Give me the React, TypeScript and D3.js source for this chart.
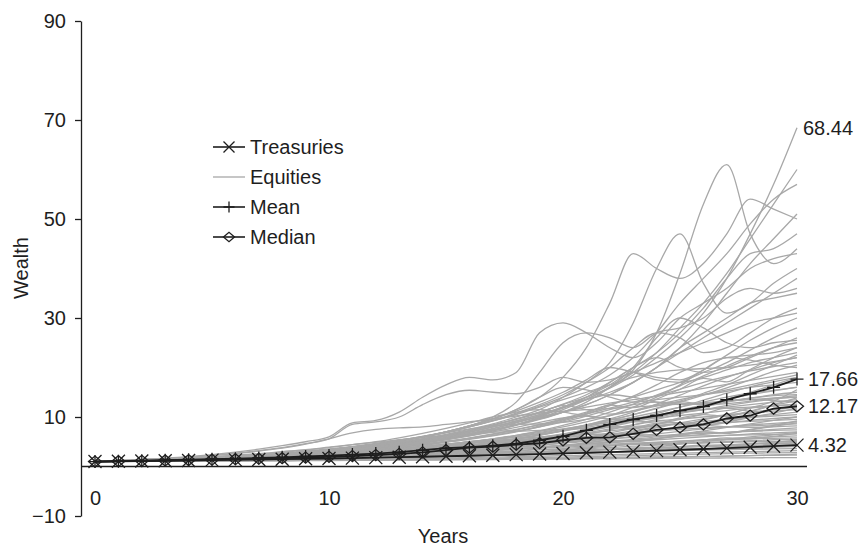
import React, { useRef, useEffect } from 'react';
import * as d3 from 'd3';

const years = [0, 1, 2, 3, 4, 5, 6, 7, 8, 9, 10, 11, 12, 13, 14, 15, 16, 17, 18, 19, 20, 21, 22, 23, 24, 25, 26, 27, 28, 29, 30];

const treasuries = [1.0, 1.05, 1.1, 1.16, 1.21, 1.28, 1.34, 1.4, 1.47, 1.55, 1.62, 1.7, 1.79, 1.88, 1.97, 2.07, 2.17, 2.28, 2.4, 2.52, 2.64, 2.77, 2.91, 3.06, 3.21, 3.37, 3.54, 3.72, 3.9, 4.1, 4.32];
const meanWealth = [1.0, 1.08, 1.16, 1.26, 1.36, 1.47, 1.59, 1.72, 1.86, 2.02, 2.2, 2.4, 2.62, 2.9, 3.3, 3.7, 3.9, 4.2, 4.6, 5.3, 6.1, 7.3, 8.5, 9.5, 10.3, 11.3, 12.1, 13.5, 14.7, 16.0, 17.66];
const medianWealth = [1.0, 1.07, 1.14, 1.22, 1.3, 1.38, 1.47, 1.57, 1.68, 1.8, 1.95, 2.1, 2.3, 2.55, 2.85, 3.3, 3.8, 4.0, 4.4, 4.7, 5.3, 5.8, 5.9, 6.6, 7.4, 7.9, 8.5, 9.7, 10.3, 11.7, 12.17];

// simulated equity wealth paths, one row per path (years 0..30)
const equities = [
  [1, 1.1, 1.2, 1.3, 1.4, 1.6, 1.8, 2.0, 2.3, 2.6, 2.9, 3.3, 3.8, 4.3, 5.0, 5.8, 6.6, 7.6, 8.8, 10.2, 11.8, 13.6, 15.8, 18.5, 22, 26, 31, 38, 47, 57, 68.44],
  [1, 1.1, 1.2, 1.4, 1.5, 1.7, 1.9, 2.1, 2.4, 2.8, 3.2, 3.6, 4.1, 4.8, 5.6, 6.3, 7.2, 8.4, 9.6, 11, 12.5, 14, 16, 19.5, 27, 39, 53, 61, 47, 41, 44],
  [1, 1.1, 1.3, 1.4, 1.6, 1.8, 2.0, 2.2, 2.5, 2.8, 3.2, 3.7, 4.2, 4.9, 5.6, 6.5, 7.5, 8.6, 10, 11.5, 14, 17, 21, 29, 40, 47, 37, 31, 33, 37, 40],
  [1, 1.1, 1.2, 1.4, 1.6, 1.8, 2.0, 2.3, 2.6, 3.0, 3.4, 3.9, 4.5, 5.2, 6.0, 7.0, 8.2, 9.6, 11.5, 14, 18, 24, 33, 43, 40, 38, 41, 47, 54, 52, 50],
  [1, 1.1, 1.2, 1.3, 1.5, 1.6, 1.8, 2.0, 2.2, 2.5, 2.8, 3.2, 3.6, 4.1, 4.7, 5.4, 6.2, 7.2, 8.4, 9.8, 11.5, 13.5, 16, 19, 23, 28, 33, 39, 46, 53, 60],
  [1, 1.1, 1.3, 1.4, 1.6, 1.8, 2.1, 2.4, 2.7, 3.1, 3.5, 4.0, 4.6, 5.3, 6.1, 7, 8, 9.2, 10.6, 12.2, 14, 16, 18.5, 22, 27, 33, 38, 43, 49, 54, 57],
  [1, 1.1, 1.2, 1.3, 1.5, 1.7, 1.9, 2.1, 2.4, 2.7, 3.0, 3.4, 3.9, 4.4, 5.0, 5.7, 6.5, 7.4, 8.5, 9.7, 11, 12.5, 14.5, 17, 20, 24, 29, 35, 41, 46, 51],
  [1, 1.1, 1.2, 1.4, 1.5, 1.7, 1.9, 2.2, 2.5, 2.8, 3.2, 3.6, 4.1, 4.7, 5.4, 6.2, 7.2, 8.3, 9.6, 11, 12.6, 14.5, 17, 20, 23, 27, 32, 38, 43, 44, 47],
  [1, 1.2, 1.4, 1.7, 2.0, 2.4, 2.9, 3.5, 4.2, 5.0, 6.0, 8.8, 9.3, 11, 14, 16.5, 18, 17.5, 19, 27, 29, 27, 24, 22, 25, 30, 33, 36, 40, 42, 43],
  [1, 1.1, 1.2, 1.4, 1.6, 1.8, 2.0, 2.3, 2.6, 3.0, 3.4, 3.9, 4.5, 5.2, 6.0, 7.0, 8.2, 10, 13, 19, 25, 27, 26, 24, 27, 28, 30, 34, 36, 35, 36],
  [1, 1.1, 1.2, 1.3, 1.4, 1.6, 1.8, 2.0, 2.3, 2.6, 2.9, 3.3, 3.8, 4.4, 5.1, 5.9, 6.9, 8, 9.2, 10.5, 12, 13.5, 15, 17, 20, 24, 27, 30, 33, 34, 35],
  [1, 1.1, 1.3, 1.4, 1.6, 1.8, 2.0, 2.3, 2.6, 3.0, 3.4, 3.9, 4.5, 5.2, 6.0, 6.9, 8, 9.3, 10.8, 12.5, 14.5, 17, 20, 24, 27, 26, 23, 24, 27, 30, 32],
  [1, 1.2, 1.4, 1.6, 1.9, 2.3, 2.7, 3.2, 3.8, 4.6, 5.6, 8.5, 9.0, 10, 12.5, 14.5, 15.4, 15, 14.7, 16, 18, 17, 17.5, 19, 21, 23, 25, 27, 29, 30, 31],
  [1, 1.1, 1.2, 1.4, 1.5, 1.7, 1.9, 2.1, 2.4, 2.7, 3.0, 3.4, 3.9, 4.4, 5.0, 5.7, 6.5, 7.4, 8.4, 9.6, 11, 12.5, 14.5, 17, 20, 23, 26, 29, 32, 35, 38],
  [1, 1.1, 1.2, 1.3, 1.5, 1.6, 1.8, 2.0, 2.3, 2.6, 2.9, 3.3, 3.7, 4.2, 4.8, 5.5, 6.3, 7.2, 8.3, 9.5, 11, 13, 16, 20, 26, 30, 28, 25, 24, 25, 25.5],
  [1, 1.1, 1.2, 1.3, 1.5, 1.6, 1.8, 2.0, 2.2, 2.5, 2.8, 3.1, 3.5, 4.0, 4.5, 5.1, 5.8, 6.6, 7.5, 8.5, 9.7, 11, 12.5, 14, 15.5, 17, 19, 21, 23.5, 26, 28],
  [1, 1.1, 1.2, 1.4, 1.5, 1.7, 1.9, 2.1, 2.4, 2.7, 3.0, 3.4, 3.8, 4.3, 4.9, 5.6, 6.4, 7.3, 8.4, 10, 12, 14, 17, 20, 22, 20, 19, 20, 22, 24, 26],
  [1, 1.05, 1.1, 1.2, 1.3, 1.4, 1.5, 1.7, 1.9, 2.1, 2.3, 2.6, 2.9, 3.3, 3.7, 4.2, 4.8, 5.5, 6.3, 7.2, 8.3, 9.5, 11, 12.6, 14.4, 16.3, 18.3, 20.3, 22.3, 24, 25],
  [1, 1.1, 1.2, 1.3, 1.4, 1.6, 1.8, 2.0, 2.2, 2.4, 2.7, 3.0, 3.4, 3.8, 4.3, 4.9, 5.5, 6.2, 7.0, 8.0, 9.2, 10.6, 12.3, 14.2, 16.5, 19, 21, 22, 22.5, 23, 24],
  [1, 1.1, 1.2, 1.4, 1.6, 1.8, 2.0, 2.3, 2.6, 3.0, 3.4, 3.9, 4.5, 5.2, 6.0, 7, 8.2, 9.6, 11.2, 13, 15, 17.5, 20, 19, 17.5, 17, 18, 19.5, 21, 22, 23],
  [1, 1.05, 1.1, 1.2, 1.3, 1.4, 1.5, 1.6, 1.8, 2.0, 2.2, 2.4, 2.7, 3.0, 3.4, 3.8, 4.3, 4.9, 5.6, 6.4, 7.3, 8.4, 9.6, 11, 12.6, 14.4, 16.3, 18, 19.5, 21, 22],
  [1, 1.1, 1.2, 1.3, 1.5, 1.6, 1.8, 2.0, 2.2, 2.5, 2.8, 3.1, 3.5, 3.9, 4.4, 5.0, 5.7, 6.5, 7.4, 8.4, 9.5, 10.6, 11.8, 13, 14.3, 15.6, 17, 18.2, 19.3, 20.2, 21],
  [1, 1.1, 1.2, 1.3, 1.4, 1.5, 1.7, 1.9, 2.1, 2.3, 2.6, 2.9, 3.2, 3.6, 4.0, 4.5, 5.0, 5.6, 6.3, 7.1, 8.0, 9.0, 10.3, 12, 14, 16.5, 19.5, 22, 21.5, 20.5, 20],
  [1, 1.1, 1.2, 1.3, 1.5, 1.7, 1.9, 2.1, 2.4, 2.7, 3.1, 3.5, 4.0, 4.6, 5.3, 6.1, 7.0, 8.0, 9.0, 10, 11, 12, 12.8, 13.5, 14.2, 15, 15.8, 16.6, 17.4, 18.2, 19],
  [1, 1.05, 1.1, 1.2, 1.3, 1.4, 1.5, 1.6, 1.7, 1.9, 2.1, 2.3, 2.5, 2.8, 3.1, 3.5, 3.9, 4.4, 5.0, 5.7, 6.5, 7.4, 8.4, 9.5, 10.7, 12, 13.4, 14.8, 16.1, 17.1, 18],
  [1, 1.1, 1.2, 1.4, 1.6, 1.8, 2.0, 2.3, 2.6, 3.0, 3.5, 4.0, 4.6, 5.3, 6.1, 7.0, 8.2, 9.6, 11.5, 14, 16, 15.5, 14, 13, 13.5, 14, 14.5, 15.2, 16, 16.5, 17],
  [1, 1.1, 1.2, 1.3, 1.4, 1.5, 1.6, 1.8, 2.0, 2.2, 2.4, 2.7, 3.0, 3.3, 3.7, 4.1, 4.6, 5.1, 5.7, 6.4, 7.2, 8.1, 9.0, 10, 11, 12, 13, 14, 14.8, 15.4, 16],
  [1, 1.05, 1.1, 1.2, 1.3, 1.4, 1.5, 1.6, 1.8, 2.0, 2.2, 2.4, 2.6, 2.9, 3.2, 3.6, 4.0, 4.5, 5.0, 5.6, 6.3, 7.1, 8.0, 9.0, 10, 11, 12, 13, 13.8, 14.5, 15],
  [1, 1.2, 1.4, 1.6, 1.9, 2.2, 2.6, 3.1, 3.7, 4.5, 5.6, 6.8, 7.5, 7.8, 8.0, 8.5, 9.0, 9.6, 10.2, 10.8, 11.2, 11.5, 11.7, 12, 12.3, 12.6, 12.9, 13.2, 13.5, 13.8, 14],
  [1, 1.1, 1.2, 1.3, 1.4, 1.6, 1.7, 1.9, 2.1, 2.3, 2.6, 2.9, 3.2, 3.6, 4.0, 4.5, 5.0, 5.6, 6.2, 6.9, 7.6, 8.3, 9, 9.7, 10.3, 10.9, 11.5, 12, 12.5, 13, 13.5],
  [1, 1.05, 1.1, 1.2, 1.3, 1.4, 1.5, 1.7, 1.8, 2.0, 2.2, 2.4, 2.7, 3.0, 3.3, 3.7, 4.1, 4.6, 5.2, 5.8, 6.5, 7.3, 8.2, 9.2, 10.3, 11.4, 12.4, 13.2, 13.6, 13.3, 13],
  [1, 1.1, 1.2, 1.3, 1.5, 1.6, 1.8, 2.0, 2.2, 2.4, 2.7, 3.0, 3.3, 3.7, 4.1, 4.5, 5.0, 5.5, 6.0, 6.6, 7.2, 7.9, 8.6, 9.2, 9.8, 10.3, 10.8, 11.3, 11.8, 12.2, 12.5],
  [1, 1.05, 1.1, 1.2, 1.3, 1.4, 1.5, 1.6, 1.7, 1.9, 2.0, 2.2, 2.4, 2.6, 2.9, 3.2, 3.5, 3.9, 4.3, 4.8, 5.3, 5.9, 6.5, 7.2, 8.0, 8.8, 9.6, 10.4, 11, 11.5, 12],
  [1, 1.1, 1.2, 1.4, 1.5, 1.7, 1.9, 2.1, 2.4, 2.7, 3.0, 3.4, 3.8, 4.3, 4.9, 5.5, 6.2, 7.0, 7.9, 8.9, 9.8, 10.2, 9.6, 9.0, 9.2, 9.6, 10, 10.4, 10.8, 11.2, 11.5],
  [1, 1.05, 1.1, 1.2, 1.25, 1.35, 1.45, 1.55, 1.7, 1.85, 2.0, 2.2, 2.4, 2.6, 2.9, 3.2, 3.5, 3.8, 4.2, 4.6, 5.1, 5.6, 6.2, 6.8, 7.4, 8.0, 8.7, 9.4, 10, 10.5, 11],
  [1, 1.1, 1.2, 1.3, 1.4, 1.5, 1.7, 1.8, 2.0, 2.2, 2.4, 2.6, 2.9, 3.2, 3.5, 3.9, 4.3, 4.7, 5.2, 5.7, 6.2, 6.7, 7.2, 7.7, 8.2, 8.7, 9.1, 9.5, 9.9, 10.2, 10.5],
  [1, 1.05, 1.1, 1.15, 1.2, 1.3, 1.4, 1.5, 1.6, 1.7, 1.9, 2.0, 2.2, 2.4, 2.6, 2.9, 3.2, 3.5, 3.9, 4.3, 4.8, 5.3, 5.9, 6.5, 7.1, 7.7, 8.3, 8.8, 9.3, 9.7, 10],
  [1, 1.15, 1.3, 1.5, 1.7, 2.0, 2.3, 2.6, 3.0, 3.4, 3.9, 4.4, 4.9, 5.4, 5.9, 6.3, 6.6, 6.9, 7.1, 7.3, 7.5, 7.7, 7.9, 8.1, 8.3, 8.5, 8.7, 8.9, 9.1, 9.3, 9.5],
  [1, 1.05, 1.1, 1.2, 1.3, 1.4, 1.5, 1.6, 1.7, 1.8, 2.0, 2.1, 2.3, 2.5, 2.7, 3.0, 3.3, 3.6, 3.9, 4.3, 4.7, 5.1, 5.6, 6.1, 6.6, 7.1, 7.6, 8.0, 8.4, 8.7, 9],
  [1, 1.1, 1.2, 1.3, 1.4, 1.5, 1.6, 1.8, 1.9, 2.1, 2.3, 2.5, 2.7, 3.0, 3.3, 3.6, 4.0, 4.4, 4.8, 5.2, 5.6, 6.0, 6.4, 6.8, 7.2, 7.5, 7.8, 8.0, 8.2, 8.4, 8.6],
  [1, 1.05, 1.1, 1.2, 1.3, 1.4, 1.5, 1.6, 1.8, 1.9, 2.1, 2.3, 2.5, 2.8, 3.1, 3.4, 3.8, 4.2, 4.7, 5.3, 6.0, 6.8, 7.6, 8.4, 9.0, 8.8, 8.4, 8.0, 7.9, 8.0, 8.2],
  [1, 1.05, 1.1, 1.15, 1.2, 1.3, 1.4, 1.5, 1.6, 1.7, 1.8, 2.0, 2.1, 2.3, 2.5, 2.7, 2.9, 3.2, 3.5, 3.8, 4.1, 4.5, 4.9, 5.3, 5.7, 6.1, 6.5, 6.9, 7.2, 7.5, 7.8],
  [1, 1.1, 1.2, 1.3, 1.4, 1.5, 1.6, 1.8, 1.9, 2.1, 2.3, 2.5, 2.7, 2.9, 3.2, 3.5, 3.8, 4.1, 4.4, 4.7, 5.0, 5.3, 5.6, 5.9, 6.2, 6.5, 6.7, 6.9, 7.1, 7.3, 7.4],
  [1, 1.05, 1.1, 1.2, 1.3, 1.35, 1.45, 1.55, 1.65, 1.8, 1.9, 2.05, 2.2, 2.4, 2.6, 2.8, 3.0, 3.3, 3.6, 3.9, 4.2, 4.5, 4.8, 5.1, 5.4, 5.7, 6.0, 6.3, 6.6, 6.8, 7],
  [1, 1.1, 1.2, 1.3, 1.5, 1.6, 1.8, 2.0, 2.2, 2.4, 2.7, 3.0, 3.3, 3.6, 4.0, 4.4, 4.8, 5.2, 5.6, 6.0, 6.3, 6.5, 6.6, 6.5, 6.3, 6.2, 6.2, 6.3, 6.4, 6.5, 6.6],
  [1, 1.05, 1.1, 1.15, 1.2, 1.3, 1.35, 1.45, 1.55, 1.65, 1.75, 1.9, 2.0, 2.2, 2.35, 2.5, 2.7, 2.9, 3.1, 3.4, 3.6, 3.9, 4.2, 4.5, 4.8, 5.1, 5.4, 5.6, 5.8, 6.0, 6.2],
  [1, 1.1, 1.15, 1.25, 1.35, 1.45, 1.55, 1.7, 1.8, 1.95, 2.1, 2.25, 2.4, 2.6, 2.8, 3.0, 3.2, 3.4, 3.6, 3.9, 4.1, 4.3, 4.5, 4.7, 4.9, 5.1, 5.3, 5.4, 5.6, 5.7, 5.8],
  [1, 1.05, 1.1, 1.15, 1.2, 1.25, 1.35, 1.4, 1.5, 1.6, 1.7, 1.8, 1.9, 2.0, 2.2, 2.3, 2.5, 2.7, 2.9, 3.1, 3.3, 3.6, 3.8, 4.1, 4.3, 4.6, 4.8, 5.0, 5.2, 5.4, 5.5],
  [1, 1.1, 1.2, 1.3, 1.4, 1.5, 1.6, 1.7, 1.8, 1.9, 2.0, 2.2, 2.3, 2.5, 2.7, 2.9, 3.1, 3.3, 3.5, 3.7, 3.9, 4.1, 4.3, 4.5, 4.6, 4.7, 4.8, 4.9, 5.0, 5.0, 5.1],
  [1, 1.05, 1.1, 1.15, 1.2, 1.25, 1.3, 1.35, 1.45, 1.5, 1.6, 1.7, 1.8, 1.9, 2.0, 2.1, 2.3, 2.4, 2.6, 2.8, 3.0, 3.2, 3.4, 3.6, 3.8, 4.0, 4.2, 4.4, 4.6, 4.7, 4.8],
  [1, 1.05, 1.1, 1.2, 1.25, 1.3, 1.4, 1.5, 1.55, 1.65, 1.75, 1.85, 1.95, 2.1, 2.2, 2.35, 2.5, 2.6, 2.8, 2.9, 3.1, 3.3, 3.4, 3.6, 3.7, 3.9, 4.0, 4.1, 4.2, 4.3, 4.4],
  [1, 1.05, 1.1, 1.15, 1.2, 1.25, 1.3, 1.35, 1.4, 1.5, 1.55, 1.6, 1.7, 1.8, 1.9, 2.0, 2.1, 2.2, 2.3, 2.45, 2.6, 2.7, 2.85, 3.0, 3.15, 3.3, 3.45, 3.6, 3.75, 3.9, 4.0],
  [1, 1.05, 1.1, 1.2, 1.25, 1.3, 1.4, 1.45, 1.55, 1.6, 1.7, 1.8, 1.9, 2.0, 2.1, 2.2, 2.3, 2.4, 2.5, 2.6, 2.7, 2.8, 2.9, 3.0, 3.1, 3.2, 3.3, 3.4, 3.5, 3.55, 3.6],
  [1, 1.03, 1.06, 1.1, 1.13, 1.17, 1.2, 1.25, 1.3, 1.35, 1.4, 1.45, 1.5, 1.6, 1.65, 1.7, 1.8, 1.9, 2.0, 2.1, 2.2, 2.3, 2.4, 2.5, 2.6, 2.7, 2.8, 2.9, 3.0, 3.1, 3.2],
  [1, 1.03, 1.06, 1.1, 1.13, 1.16, 1.2, 1.23, 1.27, 1.3, 1.35, 1.4, 1.45, 1.5, 1.55, 1.6, 1.65, 1.7, 1.8, 1.85, 1.9, 2.0, 2.1, 2.2, 2.3, 2.4, 2.5, 2.6, 2.7, 2.75, 2.8],
  [1, 1.03, 1.05, 1.08, 1.1, 1.13, 1.15, 1.18, 1.2, 1.23, 1.26, 1.3, 1.33, 1.36, 1.4, 1.45, 1.5, 1.55, 1.6, 1.65, 1.7, 1.75, 1.8, 1.9, 1.95, 2.0, 2.05, 2.1, 2.2, 2.25, 2.3],
  [1, 1.02, 1.04, 1.06, 1.08, 1.1, 1.12, 1.14, 1.16, 1.18, 1.2, 1.22, 1.25, 1.28, 1.3, 1.33, 1.36, 1.4, 1.43, 1.46, 1.5, 1.53, 1.56, 1.6, 1.63, 1.66, 1.7, 1.73, 1.76, 1.78, 1.8],
  [1, 1.1, 1.3, 1.5, 1.7, 1.9, 2.2, 2.5, 2.9, 3.3, 3.8, 4.4, 5.0, 5.8, 6.7, 7.7, 8.8, 10, 11, 11.5, 11, 10.2, 9.6, 9.5, 10, 10.8, 11.5, 12.3, 13, 13.6, 14],
  [1, 1.1, 1.2, 1.4, 1.5, 1.7, 1.9, 2.2, 2.5, 2.9, 3.3, 3.8, 4.4, 5.1, 5.9, 6.8, 7.6, 8.2, 8.5, 8.6, 8.9, 9.5, 10.3, 11.3, 12.5, 13.5, 14.5, 15.5, 16.5, 17.5, 18.5],
  [1, 1.1, 1.2, 1.3, 1.5, 1.7, 1.9, 2.1, 2.4, 2.7, 3.1, 3.5, 4.0, 4.6, 5.3, 6.1, 7.0, 8.0, 9.2, 10.5, 12, 13.5, 14.5, 14, 13, 12.5, 12.7, 13.2, 13.8, 14.3, 14.5],
  [1, 1.05, 1.1, 1.2, 1.3, 1.4, 1.5, 1.6, 1.8, 2.0, 2.2, 2.4, 2.7, 3.0, 3.3, 3.7, 4.2, 4.8, 5.5, 6.3, 7.2, 8.2, 9.3, 10.5, 11.8, 13.2, 14.8, 16.5, 18.5, 20.5, 22.5],
  [1, 1.1, 1.25, 1.4, 1.55, 1.7, 1.9, 2.1, 2.35, 2.6, 2.9, 3.2, 3.6, 4.0, 4.5, 5.0, 5.6, 6.3, 7.1, 8.0, 9.0, 10.2, 11.5, 12.5, 13, 12.8, 12.5, 12.7, 13.2, 13.8, 14.3],
  [1, 1.05, 1.1, 1.2, 1.3, 1.4, 1.5, 1.6, 1.7, 1.9, 2.0, 2.2, 2.4, 2.6, 2.9, 3.2, 3.5, 3.9, 4.4, 5.0, 5.7, 6.5, 7.4, 8.4, 9.5, 10.7, 12, 13.5, 15, 16.5, 18],
  [1, 1.1, 1.2, 1.4, 1.6, 1.8, 2.0, 2.3, 2.6, 3.0, 3.4, 3.9, 4.5, 5.2, 6.0, 6.9, 8.0, 9.2, 10.5, 12, 13.5, 15, 16.5, 18, 19, 19.5, 19.8, 20, 20.5, 21.2, 22],
  [1, 1.1, 1.2, 1.3, 1.4, 1.5, 1.7, 1.8, 2.0, 2.2, 2.4, 2.6, 2.9, 3.2, 3.5, 3.9, 4.3, 4.8, 5.3, 5.9, 6.6, 7.4, 8.3, 9.3, 10.2, 11, 11.5, 11.8, 12, 12.3, 12.6],
  [1, 1.05, 1.1, 1.15, 1.2, 1.3, 1.4, 1.5, 1.6, 1.7, 1.8, 1.95, 2.1, 2.3, 2.5, 2.7, 2.9, 3.2, 3.5, 3.8, 4.2, 4.6, 5.0, 5.5, 6.0, 6.6, 7.2, 7.9, 8.6, 9.3, 10],
  [1, 1.1, 1.2, 1.35, 1.5, 1.65, 1.8, 2.0, 2.2, 2.4, 2.6, 2.9, 3.2, 3.5, 3.9, 4.3, 4.8, 5.4, 6.0, 6.7, 7.5, 8.4, 9.4, 10.5, 11.7, 13, 14.4, 15.9, 17.5, 19.2, 20.5],
  [1, 1.1, 1.2, 1.3, 1.5, 1.6, 1.8, 2.0, 2.3, 2.5, 2.8, 3.2, 3.5, 4.0, 4.4, 4.2, 4.6, 5.3, 6.0, 5.7, 6.4, 7.5, 8.2, 7.8, 8.6, 9.8, 10.5, 10.1, 11.2, 12.4, 13.2],
  [1, 1.05, 1.1, 1.2, 1.3, 1.4, 1.5, 1.6, 1.8, 1.9, 2.1, 2.3, 2.2, 2.5, 2.8, 3.1, 3.0, 3.4, 3.9, 4.4, 4.2, 4.7, 5.3, 5.0, 5.6, 6.3, 7.0, 6.7, 7.4, 8.1, 8.8],
  [1, 1.1, 1.2, 1.3, 1.4, 1.5, 1.7, 1.9, 2.0, 2.2, 2.5, 2.7, 3.0, 3.4, 3.3, 3.7, 4.2, 4.8, 4.6, 5.2, 5.9, 6.6, 6.3, 7.0, 7.8, 8.6, 8.2, 9.0, 9.9, 10.8, 11.8],
  [1, 1.05, 1.1, 1.15, 1.2, 1.3, 1.35, 1.45, 1.55, 1.6, 1.7, 1.85, 1.95, 2.1, 2.25, 2.2, 2.4, 2.6, 2.8, 2.7, 2.95, 3.2, 3.5, 3.4, 3.7, 4.0, 4.3, 4.2, 4.5, 4.9, 5.3],
  [1, 1.1, 1.2, 1.35, 1.5, 1.6, 1.8, 2.0, 2.2, 2.5, 2.7, 3.0, 3.4, 3.3, 3.7, 4.1, 4.6, 5.2, 5.0, 5.6, 6.3, 7.1, 8.0, 7.6, 8.5, 9.5, 10.6, 11.8, 11.2, 12.5, 13.9],
  [1, 1.05, 1.1, 1.2, 1.25, 1.35, 1.45, 1.5, 1.6, 1.75, 1.85, 2.0, 2.1, 2.3, 2.5, 2.4, 2.65, 2.9, 3.2, 3.5, 3.4, 3.75, 4.1, 4.5, 4.4, 4.8, 5.3, 5.8, 5.6, 6.1, 6.7],
  [1, 1.1, 1.2, 1.3, 1.45, 1.6, 1.75, 1.9, 2.1, 2.3, 2.6, 2.5, 2.8, 3.1, 3.5, 3.9, 3.8, 4.3, 4.9, 5.5, 6.2, 6.0, 6.8, 7.7, 8.7, 8.4, 9.4, 10.5, 11.8, 13.2, 15.5],
  [1, 1.1, 1.2, 1.4, 1.5, 1.7, 1.9, 2.2, 2.4, 2.7, 3.1, 3.5, 4.0, 4.5, 5.1, 5.8, 6.6, 7.5, 7.2, 8.2, 9.4, 10.8, 12.4, 11.9, 13.6, 15.6, 17.8, 17.1, 19.6, 22, 24],
  [1, 1.1, 1.2, 1.3, 1.5, 1.7, 1.9, 2.1, 2.4, 2.7, 3.0, 3.4, 3.9, 4.4, 5.0, 5.8, 6.7, 7.7, 8.9, 10.3, 12, 14, 16.5, 19, 18, 17.5, 19.5, 22.5, 25.5, 28, 30],
  [1, 1.05, 1.1, 1.15, 1.2, 1.25, 1.3, 1.4, 1.45, 1.55, 1.6, 1.7, 1.8, 1.9, 2.0, 2.15, 2.3, 2.45, 2.4, 2.6, 2.8, 3.0, 2.95, 3.2, 3.45, 3.7, 3.6, 3.9, 4.2, 4.5, 4.8],
  [1, 1.1, 1.15, 1.25, 1.35, 1.45, 1.55, 1.7, 1.85, 2.0, 2.15, 2.35, 2.55, 2.8, 2.7, 3.0, 3.3, 3.6, 4.0, 3.9, 4.3, 4.8, 5.3, 5.2, 5.7, 6.3, 7.0, 6.8, 7.5, 8.3, 9.2],
  [1, 1.1, 1.2, 1.4, 1.6, 1.8, 2.0, 2.3, 2.6, 2.9, 3.3, 3.8, 4.3, 4.9, 5.6, 6.4, 7.3, 8.3, 9.5, 10.8, 12.3, 11.5, 10.6, 11.2, 12.2, 13.1, 12.6, 13.5, 14.5, 15.3, 16],
  [1, 1.02, 1.05, 1.08, 1.1, 1.12, 1.15, 1.17, 1.2, 1.22, 1.25, 1.28, 1.3, 1.34, 1.37, 1.4, 1.44, 1.48, 1.52, 1.56, 1.6, 1.65, 1.7, 1.76, 1.82, 1.9, 2.0, 2.1, 2.2, 2.35, 2.5],
  [1, 1.06, 1.12, 1.18, 1.25, 1.32, 1.4, 1.48, 1.57, 1.66, 1.76, 1.86, 1.97, 2.09, 2.21, 2.34, 2.48, 2.63, 2.79, 2.96, 3.14, 3.33, 3.53, 3.74, 3.96, 4.5, 5.0, 5.5, 6.0, 6.4, 6.9],
];

const yTicks = [-10, 10, 30, 50, 70, 90];
const xTicks = [0, 10, 20, 30];
const legendItems = ['Treasuries', 'Equities', 'Mean', 'Median'];

const FONT = "'Liberation Sans', Arial, Helvetica, sans-serif";
const GRAY = '#a8a8a8';
const INK = '#1e1e1e';
const FS = 20;

function WealthChart() {
  const svgRef = useRef(null);

  useEffect(() => {
    const svg = d3.select(svgRef.current);
    svg.selectAll('*').remove();

    const x = d3.scaleLinear().domain([0, 30]).range([95, 797]);
    const y = d3.scaleLinear().domain([-10, 90]).range([516, 21]);

    const line = d3
      .line()
      .x((d, i) => x(years[i]))
      .y((d) => y(d));

    // equities, light gray and smoothed
    svg
      .append('g')
      .selectAll('path')
      .data(equities)
      .join('path')
      .attr('d', line.curve(d3.curveMonotoneX))
      .attr('fill', 'none')
      .attr('stroke', GRAY)
      .attr('stroke-width', 1.3);

    // zero line
    svg
      .append('line')
      .attr('x1', x(0) - 14)
      .attr('x2', x(30) + 10)
      .attr('y1', y(0))
      .attr('y2', y(0))
      .attr('stroke', INK)
      .attr('stroke-width', 1.5);

    // y axis
    const yAxis = d3.axisLeft(y).tickValues(yTicks).tickSize(6).tickSizeOuter(0).tickPadding(9);
    const gy = svg.append('g').attr('transform', `translate(${x(0) - 14},0)`).call(yAxis);
    gy.select('.domain').attr('stroke', INK).attr('stroke-width', 1.3);
    gy.selectAll('.tick line').attr('stroke', INK).attr('stroke-width', 1.3);
    gy.selectAll('text').attr('font-size', FS).attr('font-family', FONT).attr('fill', INK);

    // x axis labels (no ticks)
    const xAxis = d3.axisBottom(x).tickValues(xTicks).tickSize(0).tickPadding(24);
    const gx = svg.append('g').attr('transform', `translate(0,${y(0)})`).call(xAxis);
    gx.select('.domain').remove();
    gx.selectAll('text').attr('font-size', FS).attr('font-family', FONT).attr('fill', INK);

    // axis titles
    svg
      .append('text')
      .attr('x', 443)
      .attr('y', 543)
      .attr('text-anchor', 'middle')
      .attr('font-size', FS)
      .attr('font-family', FONT)
      .attr('fill', INK)
      .text('Years');
    svg
      .append('text')
      .attr('transform', 'translate(28,268) rotate(-90)')
      .attr('text-anchor', 'middle')
      .attr('font-size', FS)
      .attr('font-family', FONT)
      .attr('fill', INK)
      .text('Wealth');

    const markers = {
      cross: (cx, cy, s) => `M${cx - s},${cy - s}L${cx + s},${cy + s}M${cx - s},${cy + s}L${cx + s},${cy - s}`,
      plus: (cx, cy, s) => `M${cx},${cy - s}L${cx},${cy + s}M${cx - s},${cy}L${cx + s},${cy}`,
      diamond: (cx, cy, s) => `M${cx - s},${cy}L${cx},${cy - s * 0.85}L${cx + s},${cy}L${cx},${cy + s * 0.85}Z`,
    };

    const series = [
      { values: treasuries, marker: 'cross', size: 6.5 },
      { values: meanWealth, marker: 'plus', size: 6.5 },
      { values: medianWealth, marker: 'diamond', size: 6.5 },
    ];

    series.forEach((s) => {
      const g = svg.append('g');
      g.append('path')
        .attr('d', line.curve(d3.curveLinear)(s.values))
        .attr('fill', 'none')
        .attr('stroke', INK)
        .attr('stroke-width', 1.8);
      g.selectAll('path.mk')
        .data(s.values)
        .join('path')
        .attr('class', 'mk')
        .attr('d', (d, i) => markers[s.marker](x(years[i]), y(d), s.size))
        .attr('fill', 'none')
        .attr('stroke', INK)
        .attr('stroke-width', 1.3);
    });

    // end-of-horizon values
    const maxEquity = d3.max(equities, (p) => p[p.length - 1]);
    const endLabels = [
      { v: maxEquity, dx: 6 },
      { v: meanWealth[30], dx: 11 },
      { v: medianWealth[30], dx: 11 },
      { v: treasuries[30], dx: 11 },
    ];
    svg
      .append('g')
      .selectAll('text')
      .data(endLabels)
      .join('text')
      .attr('x', (d) => x(30) + d.dx)
      .attr('y', (d) => y(d.v))
      .attr('dy', '0.35em')
      .attr('font-size', FS)
      .attr('font-family', FONT)
      .attr('fill', INK)
      .text((d) => d.v.toFixed(2));

    // legend
    const lg = svg.append('g').attr('transform', 'translate(213,147)');
    legendItems.forEach((name, i) => {
      const row = lg.append('g').attr('transform', `translate(0,${i * 30})`);
      row
        .append('line')
        .attr('x1', 0)
        .attr('x2', 32)
        .attr('stroke', name === 'Equities' ? GRAY : INK)
        .attr('stroke-width', name === 'Equities' ? 1.3 : 1.6);
      const mk = [markers.cross, null, markers.plus, markers.diamond][i];
      if (mk) {
        row.append('path').attr('d', mk(16, 0, 5.5)).attr('fill', 'none').attr('stroke', INK).attr('stroke-width', 1.3);
      }
      row
        .append('text')
        .attr('x', 37)
        .attr('dy', '0.35em')
        .attr('font-size', FS)
        .attr('font-family', FONT)
        .attr('fill', INK)
        .text(name);
    });
  }, []);

  return (
    <svg
      ref={svgRef}
      width={862}
      height={548}
      style={{ position: 'absolute', left: 0, top: 0, background: '#fff' }}
    />
  );
}

export default function App() {
  return <WealthChart />;
}
